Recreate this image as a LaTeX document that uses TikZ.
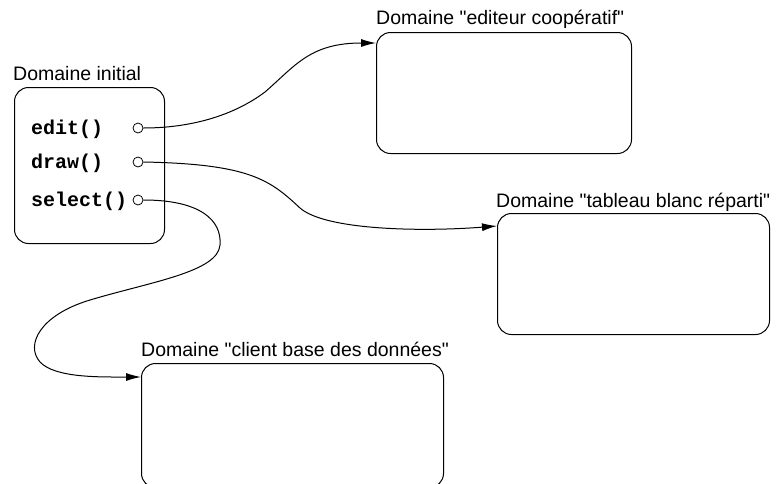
\documentclass[tikz,border=0pt]{standalone}
\usepackage{fontspec}
\setmainfont{Liberation Sans}
\newfontfamily\monob{Liberation Mono}
\usetikzlibrary{arrows.meta}
\tikzset{
  dombox/.style={draw, line width=1pt, rounded corners=14pt, inner sep=0pt, anchor=north west},
  domlabel/.style={anchor=base west, inner sep=0pt, font=\fontsize{19.5}{22}\selectfont},
  meth/.style={anchor=base west, inner sep=0pt, font=\monob\bfseries\fontsize{20}{22}\selectfont},
  port/.style={draw, circle, line width=0.8pt, minimum size=10pt, inner sep=0pt, fill=white},
  conn/.style={line width=1pt, -{Latex[length=15pt,width=8pt]}},
}
\begin{document}
\begin{tikzpicture}[x=1pt,y=-1pt]
\useasboundingbox (0,0) rectangle (780,483);
% boxes
\node[dombox, minimum width=150pt, minimum height=156pt] (init) at (14,87) {};
\node[dombox, minimum width=255pt, minimum height=121pt] (edit) at (376,32) {};
\node[dombox, minimum width=272pt, minimum height=121pt] (tab) at (497,213) {};
\node[dombox, minimum width=302pt, minimum height=124pt] (client) at (141,363) {};
% labels
\node[domlabel] (linit) at (13,80) {Domaine initial};
\node[domlabel] (ledit) at (376,24) {Domaine \textquotedbl editeur coopératif\textquotedbl};
\node[domlabel] (ltab) at (496,207) {Domaine \textquotedbl tableau blanc réparti\textquotedbl};
\node[domlabel] (lclient) at (141,356) {Domaine \textquotedbl client base des données\textquotedbl};
% methods
\node[meth] (m1) at (31,134) {edit()};
\node[meth] (m2) at (31,168) {draw()};
\node[meth] (m3) at (31,206) {select()};
\node[port] (p1) at (138,128) {};
\node[port] (p2) at (138,162) {};
\node[port] (p3) at (138,200) {};
% connectors
\draw[conn] (p1.east) .. controls (190,128) and (233,116) .. (265,92)
  .. controls (295,66) and (310,43) .. ([yshift=-11pt]edit.north west);
\draw[conn] (p2.east) .. controls (250,164) and (270,180) .. (300,208)
  .. controls (325,230) and (420,232) .. ([yshift=-13pt]tab.north west);
\draw[conn] (p3.east) .. controls (200,200) and (222,220) .. (220,245)
  .. controls (218,272) and (150,282) .. (90,300)
  .. controls (40,315) and (25,345) .. (40,362)
  .. controls (55,378) and (100,377) .. ([yshift=-14pt]client.north west);
\end{tikzpicture}
\end{document}
